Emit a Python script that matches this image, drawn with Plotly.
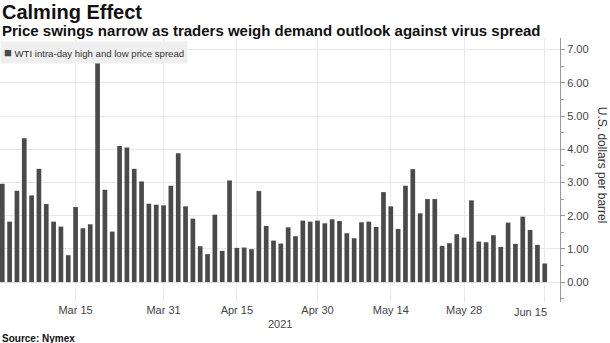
import pandas as pd
import plotly.graph_objects as go

# Trading days (Nymex), Mar 1 - Jun 15 2021, excluding Good Friday and Memorial Day
holidays = ["2021-04-02", "2021-05-31"]
dates = [d.strftime("%Y-%m-%d") for d in pd.bdate_range("2021-03-01", "2021-06-15")
         if d.strftime("%Y-%m-%d") not in holidays]

spread = [2.96, 1.82, 2.75, 4.33, 2.61, 3.41, 2.35, 1.82, 1.67, 0.81,
          2.26, 1.62, 1.74, 6.60, 2.78, 1.52, 4.10, 4.05, 3.41, 3.03,
          2.36, 2.33, 2.31, 2.90, 3.88, 2.28, 1.91, 1.08, 0.84, 2.03,
          0.94, 3.06, 1.03, 1.04, 0.99, 2.74, 1.69, 1.25, 1.16, 1.65,
          1.38, 1.85, 1.82, 1.85, 1.77, 1.89, 1.84, 1.47, 1.32, 1.80,
          1.82, 1.66, 2.71, 2.28, 1.60, 2.90, 3.40, 2.07, 2.50, 2.50,
          1.09, 1.17, 1.44, 1.34, 2.46, 1.22, 1.20, 1.41, 1.06, 1.79,
          1.15, 1.97, 1.57, 1.12, 0.56]

tick_dates = ["2021-03-15", "2021-03-31", "2021-04-15", "2021-04-30",
              "2021-05-14", "2021-05-28", "2021-06-15"]
tick_text = ["Mar 15", "Mar 31", "Apr 15", "Apr 30", "May 14", "May 28", ""]
last_tick_label = "Jun 15"
y_ticks = [0, 1, 2, 3, 4, 5, 6, 7]

series_name = "WTI intra-day high and low price spread"
title = "Calming Effect"
subtitle = "Price swings narrow as traders weigh demand outlook against virus spread"
y_title = "U.S. dollars per barrel"
year_label = "2021"
source = "Source: Nymex"

FONT = "Liberation Sans, Arial, sans-serif"
BAR = "#4a4a4a"
GRID = "#e8e8e8"

fig = go.Figure()
fig.add_trace(go.Bar(x=dates, y=spread, name=series_name,
                     marker=dict(color=BAR, line=dict(width=0)),
                     width=0.64, showlegend=False))

fig.update_layout(
    width=610, height=343,
    margin=dict(l=0, r=50, t=38, b=41),
    paper_bgcolor="white", plot_bgcolor="white",
    font=dict(family=FONT, color="#333333"),
    xaxis=dict(type="category", range=[-0.31, 76.08],
               tickmode="array", tickvals=tick_dates, ticktext=tick_text,
               showgrid=True, gridcolor=GRID, gridwidth=1,
               ticks="", showline=False, zeroline=False,
               tickfont=dict(size=11, color="#444444")),
    yaxis=dict(side="right", range=[-0.6, 7.35],
               tickmode="array", tickvals=y_ticks, tickformat=".2f",
               showgrid=True, gridcolor=GRID, gridwidth=1,
               ticks="outside", ticklen=4, tickcolor="#999999",
               showline=True, linecolor="#999999", linewidth=1,
               zeroline=False,
               minor=dict(tickmode="linear", dtick=0.5, ticks="outside",
                          ticklen=3, tickcolor="#999999", showgrid=False),
               tickfont=dict(size=11, color="#444444")),
)

ann = []
ann.append(dict(text="<b>%s</b>" % title, x=0, y=1.098, xref="paper", yref="paper",
                xanchor="left", yanchor="middle", showarrow=False,
                font=dict(size=20, color="#111111", family=FONT)))
ann.append(dict(text="<b>%s</b>" % subtitle, x=0, y=1.027, xref="paper", yref="paper",
                xanchor="left", yanchor="middle", showarrow=False,
                font=dict(size=15, color="#111111", family=FONT)))
ann.append(dict(text="<span style='color:%s;font-size:13px'>■</span> %s" % (BAR, series_name),
                x=0, y=0.99, xref="paper", yref="paper",
                xanchor="left", yanchor="top", showarrow=False,
                bgcolor="#efefef", borderpad=3,
                font=dict(size=9.6, color="#333333", family=FONT)))
ann.append(dict(text=last_tick_label, x=dates.index("2021-06-15"), y=0, xref="x",
                yref="paper", xanchor="right", yanchor="top", xshift=4, yshift=-2,
                showarrow=False, font=dict(size=11, color="#444444", family=FONT)))
ann.append(dict(text=year_label, x=280 / 560, y=-0.083, xref="paper", yref="paper",
                xanchor="center", yanchor="middle", showarrow=False,
                font=dict(size=11, color="#444444", family=FONT)))
ann.append(dict(text="<b>%s</b>" % source, x=0, y=-0.14, xref="paper", yref="paper",
                xanchor="left", yanchor="middle", showarrow=False,
                font=dict(size=10, color="#111111", family=FONT)))
ann.append(dict(text=y_title, x=1.075, y=0.52, xref="paper", yref="paper",
                xanchor="center", yanchor="middle", textangle=90, showarrow=False,
                font=dict(size=12, color="#333333", family=FONT)))
fig.update_layout(annotations=ann)

fig.write_html("out.html")
